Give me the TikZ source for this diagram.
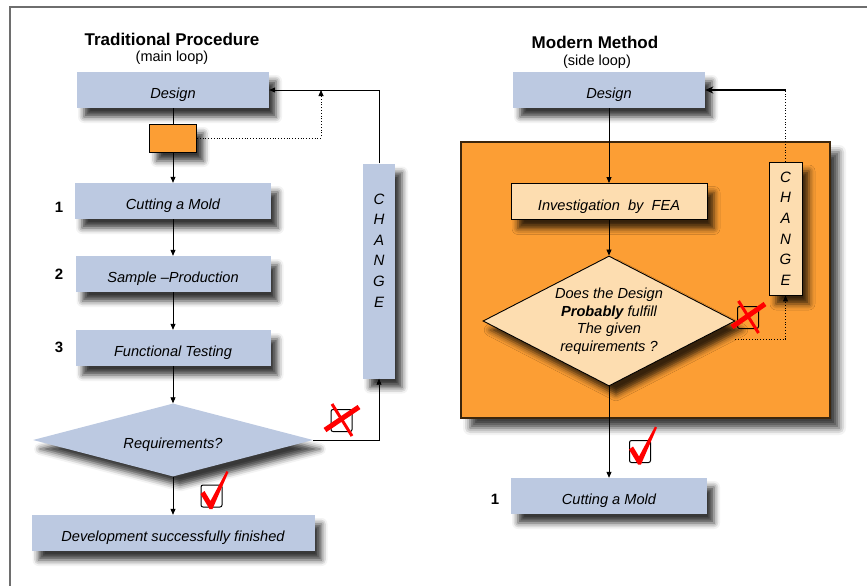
\documentclass[tikz,border=0pt]{standalone}
\usepackage{fontspec}
\setmainfont{Liberation Sans}
\usetikzlibrary{
    shapes.geometric,
    arrows.meta,
    positioning,
    calc,
    shadows,
    shadows.blur
}

\definecolor{stepblue}{RGB}{188,201,225}
\definecolor{feaorange}{RGB}{252,158,52}
\definecolor{feapeach}{RGB}{253,221,176}
\definecolor{feaedge}{RGB}{60,38,12}
\definecolor{framegray}{RGB}{110,110,110}

\tikzset{
    shade box/.style={blur shadow={shadow xshift=7pt, shadow yshift=-9pt,
        shadow blur radius=6pt, shadow opacity=78}},
    basebox/.style={rectangle, fill=stepblue, minimum width=196pt, minimum height=36pt,
        inner sep=0pt, font=\fontsize{14.6}{17}\selectfont\itshape, shade box},
    stepbox/.style={basebox, text height=17pt, text depth=0pt},
    peachbox/.style={stepbox, fill=feapeach, draw=black, line width=0.9pt},
    decision/.style={diamond, inner sep=0pt, align=center,
        font=\fontsize{14.6}{17.5}\selectfont\itshape, shade box},
    changebox/.style={basebox, minimum width=32pt, align=center,
        font=\fontsize{15}{20.6}\selectfont\itshape},
    flow/.style={-{Triangle[length=6pt,width=5pt]}, line width=0.8pt},
    heading/.style={font=\fontsize{17}{20}\selectfont\bfseries},
    subheading/.style={font=\fontsize{14.5}{17}\selectfont},
    stepnum/.style={font=\fontsize{15}{18}\selectfont\bfseries},
    tickbox/.style={draw=black, line width=1pt, rounded corners=2pt,
        minimum width=21pt, minimum height=22pt, inner sep=0pt},
    redmark/.style={draw=red, fill=red, line cap=butt}
}

\begin{document}
\begin{tikzpicture}[x=1pt, y=-1pt]
    \useasboundingbox (0,0) rectangle (867,586);
    \draw[framegray, line width=1.6pt] (867,7) -- (10,7) -- (10,586);

    % traditional procedure (main loop)
    \node[heading] (title1) at (172,39) {Traditional Procedure};
    \node[subheading] (sub1) at (172,58) {(main loop)};
    \node[stepbox, minimum width=192pt] (design1) at (173,90) {Design};
    \node[rectangle, fill=feaorange, draw=black, line width=0.9pt, minimum width=47pt,
        minimum height=28pt, shade box] (trial) at (173,138) {};
    \node[stepbox] (cut1) at (173,201) {Cutting a Mold};
    \node[stepbox, minimum width=195pt] (sample) at (173,274) {Sample --Production};
    \node[stepbox, minimum width=195pt] (func) at (173,348) {Functional Testing};
    \node[decision, fill=stepblue, minimum width=280pt, minimum height=73pt, aspect=3.8,
        text height=17pt, text depth=0pt] (req) at (173,440) {Requirements?};
    \node[stepbox, minimum width=283pt] (dev) at (173,533) {Development successfully finished};
    \node[changebox, minimum height=215pt] (change1) at (379,271) {C\\H\\A\\N\\G\\E\\ \\ };
    \node[stepnum] (n1) at (59,207) {1};
    \node[stepnum] (n2) at (59,274) {2};
    \node[stepnum] (n3) at (59,347) {3};
    \coordinate (back1) at (321,90);

    \draw[line width=0.8pt] (design1) -- (trial);
    \draw[flow] (trial) -- (cut1);
    \draw[flow] (cut1) -- (sample);
    \draw[flow] (sample) -- (func);
    \draw[flow] (func) -- (req);
    \draw[flow] (req) -- (dev);
    \draw[flow] (req.east) -| (change1.south);
    \draw[flow] (change1.north) |- (design1.east);
    \draw[flow, dotted] (trial.east) -| (back1);

    \node[tickbox] (no1) at (341.5,420.5) {};
    \draw[redmark, line width=5pt] ($(no1)+(17.5,-13.5)$) -- ($(no1)+(-16.5,9.5)$);
    \draw[redmark, line width=3pt] ($(no1)+(-9.5,-16.5)$) -- ($(no1)+(10.5,15.5)$);
    \node[tickbox] (yes1) at (211.5,496) {};
    \fill[red] ($(yes1)+(-11,-2)$) -- ($(yes1)+(-7,-5)$) -- ($(yes1)+(-1,5)$)
        -- ($(yes1)+(15,-25)$) -- ($(yes1)+(17,-24)$) -- ($(yes1)+(1,13)$)
        -- ($(yes1)+(-2,13)$) -- cycle;

    % modern method (side loop)
    \node[heading] (title2) at (595,42) {Modern Method};
    \node[subheading] (sub2) at (597,62) {(side loop)};
    \node[rectangle, fill=feaorange, draw=feaedge, line width=1.2pt, minimum width=369pt,
        minimum height=276pt, blur shadow={shadow xshift=9pt, shadow yshift=-10pt,
        shadow blur radius=7pt, shadow opacity=75}] (feaarea) at (645.5,280) {};
    \node[stepbox, minimum width=192pt] (design2) at (609,90) {Design};
    \node[peachbox] (fea) at (609,201.5) {Investigation~~by~~FEA};
    \node[decision, fill=feapeach, draw=black, line width=0.9pt, minimum width=252pt,
        minimum height=130pt, aspect=1.94] (prob) at (609,321)
        {Does the Design\\\textbf{Probably} fulfill\\The given\\requirements ?};
    \node[changebox, fill=feapeach, draw=black, line width=0.9pt, minimum width=33pt,
        minimum height=133pt] (change2) at (785.5,228.5) {C\\H\\A\\N\\G\\E};
    \node[stepbox] (cut2) at (609,496) {Cutting a Mold};
    \node[stepnum] (n4) at (495,499) {1};
    \coordinate (top2) at (change2.north |- design2.east);
    \coordinate (miss2) at (735,339);

    \draw[flow] (design2) -- (fea);
    \draw[flow] (fea) -- (prob);
    \draw[flow] (prob.south) -- (cut2);
    \draw[line width=0.8pt, dotted] (change2.north) -- (top2);
    \draw[-{Stealth[length=8pt,width=7pt,fill=blue!60!black]}, line width=1.8pt]
        (top2) -- (design2.east);
    \draw[flow, dotted] (miss2) -| (change2.south);

    \node[tickbox] (no2) at (748,317.5) {};
    \draw[redmark, line width=5pt] ($(no2)+(17,-13.5)$) -- ($(no2)+(-16,9.5)$);
    \draw[redmark, line width=3pt] ($(no2)+(-9.5,-16.5)$) -- ($(no2)+(10.5,15.5)$);
    \node[tickbox] (yes2) at (640,451.5) {};
    \fill[red] ($(yes2)+(-11,-2)$) -- ($(yes2)+(-7,-5)$) -- ($(yes2)+(-1,5)$)
        -- ($(yes2)+(15,-25)$) -- ($(yes2)+(17,-24)$) -- ($(yes2)+(1,13)$)
        -- ($(yes2)+(-2,13)$) -- cycle;
\end{tikzpicture}
\end{document}
